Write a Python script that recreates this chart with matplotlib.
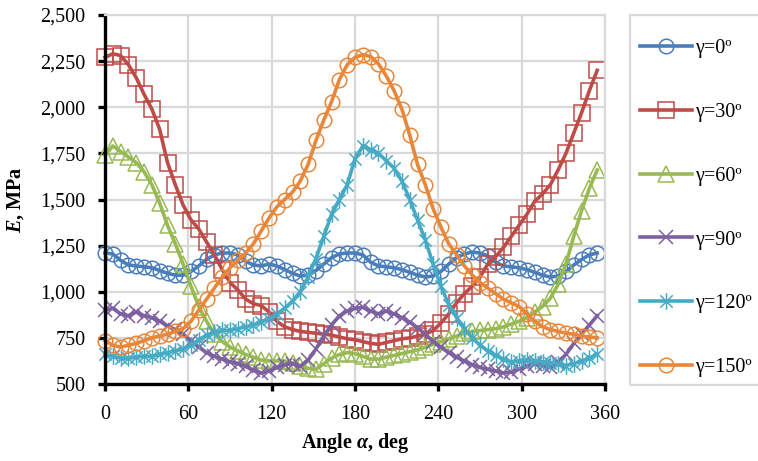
import matplotlib
matplotlib.use("Agg")
import matplotlib.pyplot as plt
import numpy as np
from matplotlib.path import Path
from matplotlib.patches import Rectangle
from matplotlib.ticker import FuncFormatter, MultipleLocator

plt.rcParams['font.family'] = ['Liberation Serif', 'DejaVu Serif']
plt.rcParams['mathtext.fontset'] = 'custom'
plt.rcParams['mathtext.rm'] = 'Liberation Serif'
plt.rcParams['mathtext.it'] = 'Liberation Serif:italic'
plt.rcParams['mathtext.bf'] = 'Liberation Serif:bold'
plt.rcParams['mathtext.bfit'] = 'Liberation Serif:italic:bold'

# angle grid, 64 steps over the full turn
angles = np.arange(64) * 5.625

e_g0 = [1210, 1205, 1170, 1145, 1140, 1135, 1130, 1115, 1100, 1090, 1090, 1110, 1140, 1175, 1200, 1210,
        1210, 1200, 1165, 1145, 1140, 1150, 1140, 1120, 1100, 1085, 1090, 1115, 1150, 1185, 1205, 1210,
        1210, 1200, 1160, 1140, 1135, 1130, 1120, 1105, 1090, 1080, 1085, 1110, 1150, 1185, 1205, 1215,
        1210, 1195, 1160, 1140, 1135, 1130, 1120, 1105, 1090, 1080, 1085, 1110, 1145, 1175, 1200, 1210]

e_g30 = [2270, 2290, 2280, 2230, 2160, 2070, 1990, 1880, 1700, 1580, 1470, 1390, 1340, 1270, 1200, 1120,
         1050, 1010, 960, 935, 925, 890, 840, 810, 795, 785, 780, 775, 770, 765, 755, 745,
         740, 730, 720, 715, 725, 735, 745, 750, 760, 770, 790, 830, 880, 940, 990, 1030,
         1080, 1150, 1190, 1240, 1300, 1360, 1420, 1490, 1530, 1580, 1660, 1750, 1860, 1970, 2090, 2200]

e_g60 = [1740, 1790, 1760, 1730, 1700, 1650, 1580, 1480, 1360, 1260, 1150, 1030, 920, 840, 770, 730,
         700, 680, 660, 645, 630, 625, 625, 625, 615, 600, 585, 580, 610, 640, 660, 670,
         665, 650, 635, 635, 645, 655, 665, 675, 685, 700, 715, 730, 745, 760, 775, 785,
         790, 795, 800, 810, 825, 840, 860, 890, 920, 965, 1040, 1150, 1300, 1440, 1560, 1660]

e_g90 = [900, 910, 880, 870, 890, 870, 860, 840, 815, 795, 770, 735, 700, 670, 650, 635,
         620, 610, 595, 575, 560, 570, 590, 605, 610, 595, 630, 690, 760, 820, 870, 895,
         910, 915, 895, 880, 895, 880, 860, 835, 805, 770, 730, 700, 670, 645, 625, 605,
         590, 580, 570, 560, 565, 580, 595, 610, 600, 590, 620, 660, 720, 770, 820, 870]

e_g120 = [660, 650, 640, 640, 645, 650, 650, 660, 670, 680, 690, 710, 740, 765, 780, 790,
          790, 800, 810, 820, 835, 855, 880, 910, 950, 1000, 1080, 1180, 1300, 1420, 1500, 1580,
          1720, 1790, 1770, 1750, 1710, 1670, 1600, 1500, 1390, 1280, 1150, 1030, 930, 860, 800, 750,
          710, 680, 655, 635, 620, 625, 630, 625, 620, 615, 610, 600, 610, 625, 640, 660]

e_g150 = [735, 710, 700, 710, 720, 735, 750, 760, 770, 785, 800, 840, 900, 960, 1020, 1080,
          1130, 1170, 1210, 1260, 1330, 1400, 1460, 1500, 1540, 1600, 1690, 1820, 1930, 2030, 2150, 2230,
          2270, 2285, 2275, 2235, 2170, 2090, 1990, 1850, 1690, 1580, 1450, 1350, 1260, 1200, 1140, 1090,
          1050, 1020, 990, 960, 940, 920, 880, 840, 810, 795, 785, 775, 770, 760, 755, 750]

labels = ['γ=0º', 'γ=30º', 'γ=60º', 'γ=90º', 'γ=120º', 'γ=150º']
colors = ['#4A7EBB', '#BE4B48', '#98B954', '#7D60A0', '#46AAC5', '#E8873A']

# Excel-style star: an x with a vertical bar through it
star = Path([(-1, -1), (1, 1), (-1, 1), (1, -1), (0, -1.35), (0, 1.35)],
            [Path.MOVETO, Path.LINETO, Path.MOVETO, Path.LINETO, Path.MOVETO, Path.LINETO])
markers = ['o', 's', '^', 'x', star, 'o']
msizes = [10.5, 11.5, 11.5, 10.5, 12, 10.5]

fig = plt.figure(figsize=(7.58, 4.61), dpi=100)
ax = fig.add_axes([105 / 758, 1 - 384 / 461, 500 / 758, 369 / 461])

series = [e_g0, e_g30, e_g60, e_g90, e_g120, e_g150]
for vals, lab, c, m, ms in zip(series, labels, colors, markers, msizes):
    ax.plot(angles, vals, color=c, lw=2.6, marker=m, ms=ms, mfc='none',
            mec=c, mew=1.1, label=lab, clip_on=False)

ax.set_xlim(0, 360)
ax.set_ylim(500, 2500)
ax.xaxis.set_major_locator(MultipleLocator(60))
ax.yaxis.set_major_locator(MultipleLocator(250))
ax.yaxis.set_major_formatter(FuncFormatter(lambda v, p: f'{v:,.0f}'))

ax.grid(True, color='#D9D9D9', lw=1.6)
ax.set_axisbelow(True)
for side in ['top', 'right']:
    ax.spines[side].set_color('#D9D9D9')
    ax.spines[side].set_linewidth(1.6)
for side in ['left', 'bottom']:
    ax.spines[side].set_color('black')
    ax.spines[side].set_linewidth(2.4)
ax.tick_params(axis='both', direction='out', length=5, width=2.4, color='black',
               labelsize=14.5)
ax.tick_params(axis='y', pad=9)
ax.tick_params(axis='x', pad=10)

ax.set_xlabel(r'Angle $\mathbfit{\alpha}$, deg', fontsize=14.5, fontweight='bold', labelpad=5)
ax.set_ylabel(r'$\mathbfit{E}$, MPa', fontsize=14.5, fontweight='bold', labelpad=10)

# legend box on the right
fig.patches.append(Rectangle((630 / 758, 1 - 385 / 461), 140 / 758, 370 / 461,
                             transform=fig.transFigure, fill=False,
                             edgecolor='#D9D9D9', lw=1.6))
fig.legend(loc='upper left', bbox_to_anchor=(640 / 758, 1 - 39 / 461),
           frameon=False, fontsize=14.5, borderpad=0, borderaxespad=0,
           handlelength=2.6, handletextpad=0.15, labelspacing=2.22)

fig.savefig('out.png', dpi=100)
